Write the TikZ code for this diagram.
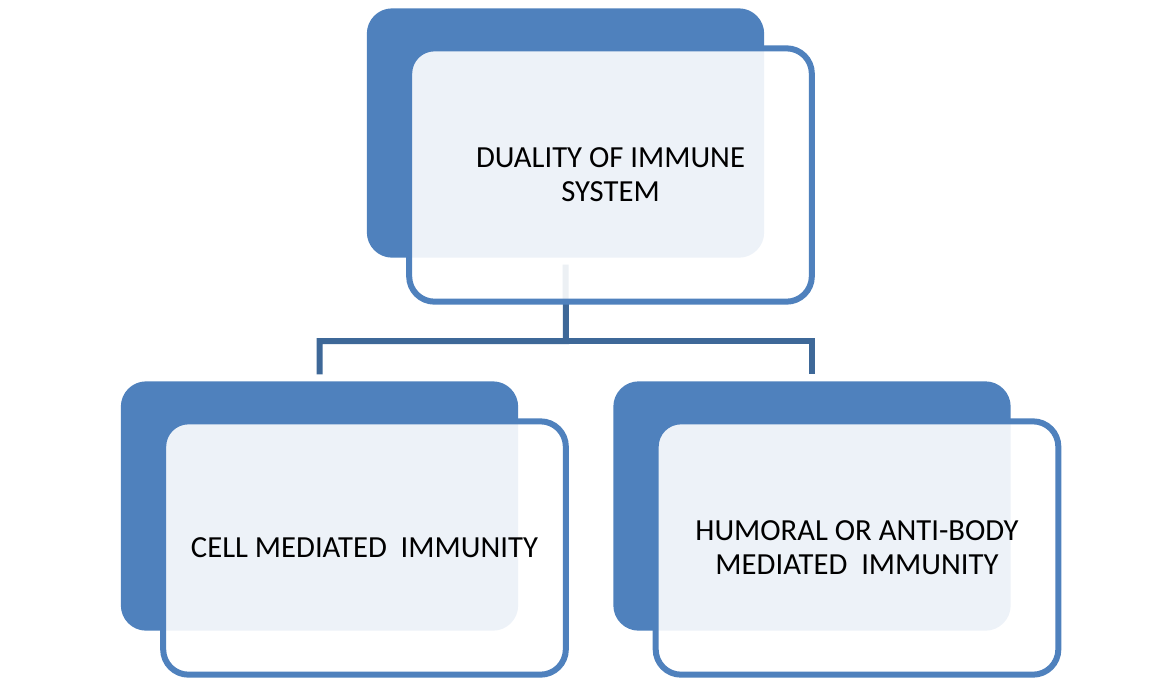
\documentclass[tikz,border=0pt]{standalone}
\usepackage{fontspec}
\setmainfont{Carlito}
\usetikzlibrary{positioning}
\definecolor{boxblue}{HTML}{4F81BD}
\definecolor{linkblue}{HTML}{3E6898}
\begin{document}
\begin{tikzpicture}[x=.75pt,y=-.75pt,
	back/.style={fill=boxblue,rounded corners=19pt,minimum width=298pt,minimum height=187pt},
	front/.style={draw=boxblue,line width=4.5pt,fill=white,fill opacity=.9,text opacity=1,
		rounded corners=19pt,minimum width=302pt,minimum height=190pt,align=center,
		font=\fontsize{23}{25.5}\selectfont},
	link/.style={draw=linkblue,line width=4.5pt}]
\useasboundingbox (0,0) rectangle (1170,679);
\node[back] (topback) at (565.5,133) {};
\node[back] (leftback) at (319.5,506) {};
\node[back] (rightback) at (812,506) {};
\coordinate (fork) at (566,341);
\draw[link] ([yshift=-5pt]topback.south) -- (fork) -| ([yshift=5pt]leftback.north); %left
\draw[link] (fork) -| ([yshift=5pt]rightback.north); %right
\node[front] (top) at ([shift={(45,42)}]topback.center) {DUALITY OF IMMUNE\\SYSTEM};
\node[front] (cell) at ([shift={(45,42)}]leftback.center) {CELL MEDIATED~ IMMUNITY};
\node[front] (humoral) at ([shift={(45,42)}]rightback.center) {HUMORAL OR ANTI-BODY\\MEDIATED~ IMMUNITY};
\end{tikzpicture}
\end{document}
